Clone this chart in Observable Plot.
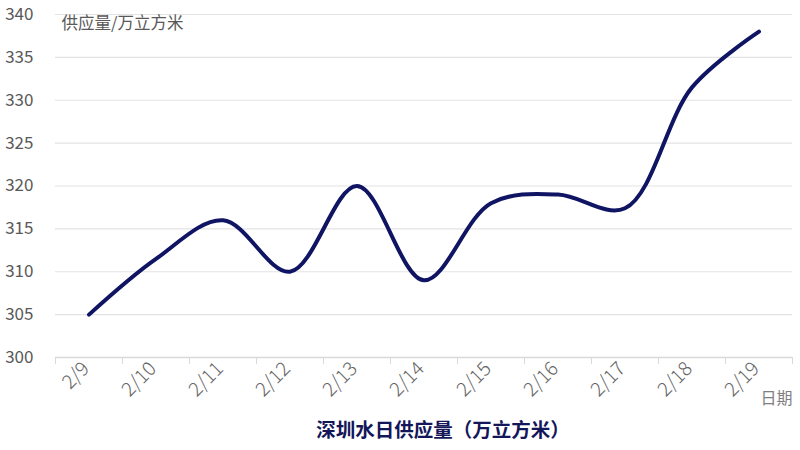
<!DOCTYPE html>
<html>
<head>
<meta charset="utf-8">
<script src="https://cdn.jsdelivr.net/npm/d3@7"></script>
<script src="https://cdn.jsdelivr.net/npm/@observablehq/plot@0.6"></script>
<style>
  body { margin: 0; background: #fff; font-family: "Noto Sans CJK SC", "Noto Sans", sans-serif; }
  #wrap { width: 800px; height: 450px; position: relative; }
  #title { position: absolute; left: 0; top: 414px; width: 800px; padding-left: 86px; box-sizing: border-box;
           text-align: center; font-size: 19.5px; font-weight: bold; color: #14165a; }
</style>
</head>
<body>
<div id="wrap"><div id="chart"></div><div id="title">深圳水日供应量（万立方米）</div></div>
<script>
const dates = ["2/9","2/10","2/11","2/12","2/13","2/14","2/15","2/16","2/17","2/18","2/19"];
const supply = [305, 311.5, 316, 310, 320, 309, 318, 319, 317.4, 331.5, 338];
const yTicks = [300, 305, 310, 315, 320, 325, 330, 335, 340];

const data = dates.map((d, i) => ({i, date: d, value: supply[i]}));
const idx = d3.range(dates.length);
const bounds = d3.range(dates.length + 1).map(k => k - 0.5);

const font = "Noto Sans CJK SC";
const plot = Plot.plot({
  width: 800, height: 410,
  marginLeft: 55, marginRight: 8, marginTop: 14, marginBottom: 53,
  style: {fontFamily: font, background: "#fff"},
  x: {type: "linear", domain: [-0.5, dates.length - 0.5]},
  y: {domain: [300, 340]},
  marks: [
    Plot.ruleY(yTicks.filter(t => t > 300), {stroke: "#e3e3e3", strokeWidth: 1.2}),
    Plot.ruleY([300], {stroke: "#d9d9d9", strokeWidth: 1.5}),
    Plot.axisY({ticks: yTicks, tickSize: 0, tickPadding: 22, fontSize: 17, fill: "#595959", label: null}),
    Plot.axisX({ticks: bounds, tickSize: 7, stroke: "#d9d9d9", tickFormat: () => "", label: null}),
    Plot.axisX({ticks: idx, tickSize: 0, tickRotate: -45, tickPadding: 6, fontSize: 19.5, fontWeight: 300, fill: "#666666",
                tickFormat: i => dates[i], label: null, textAnchor: "end", dy: 2, dx: -3}),
    Plot.line(data, {x: "i", y: "value", curve: "catmull-rom", stroke: "#0f1463", strokeWidth: 4, strokeLinecap: "round"}),
    Plot.text(["供应量/万立方米"], {frameAnchor: "top-left", dx: 6, dy: 3, textAnchor: "start", lineAnchor: "top", fontSize: 16.5, fill: "#595959"}),
    Plot.text(["日期"], {frameAnchor: "bottom-right", dx: 0, dy: 46, textAnchor: "end", fontSize: 16, fill: "#7f7f7f"})
  ]
});
document.getElementById("chart").appendChild(plot);
</script>
</body>
</html>
